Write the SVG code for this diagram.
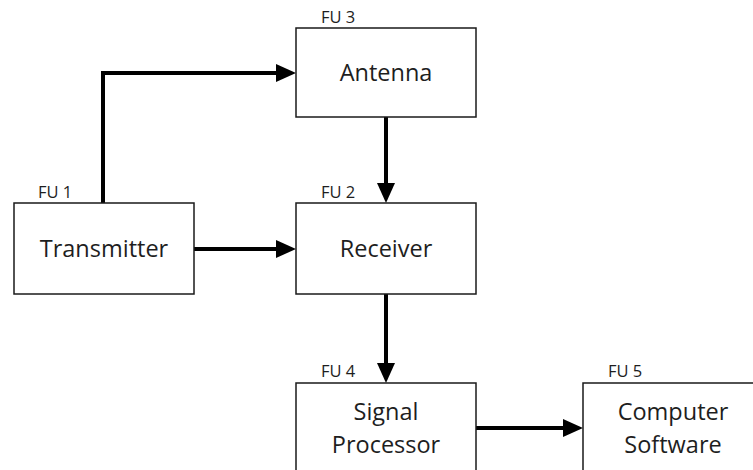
<svg xmlns="http://www.w3.org/2000/svg" width="753" height="470" viewBox="0 0 753 470">
  <style>
    .box { fill: #ffffff; stroke: #1a1a1a; stroke-width: 1.5; }
    .name { font-family: "Open Sans", "Liberation Sans", sans-serif; font-size: 23.5px; fill: #1e1e1e; text-anchor: middle; }
    .tag { font-family: "Open Sans", "Liberation Sans", sans-serif; font-size: 16.5px; fill: #1e1e1e; }
    .wire { fill: none; stroke: #000000; stroke-width: 4; marker-end: url(#head); }
  </style>
  <defs>
    <marker id="head" markerUnits="userSpaceOnUse" markerWidth="20" markerHeight="18" refX="10" refY="9" orient="auto">
      <path d="M0,0 L20,9 L0,18 Z" fill="#000000"/>
    </marker>
  </defs>
  <rect width="753" height="470" fill="#ffffff"/>

  <g id="connectors">
    <path class="wire" d="M103,204 L103,73 L286,73"/>
    <path class="wire" d="M386,117 L386,193"/>
    <path class="wire" d="M194,249 L286,249"/>
    <path class="wire" d="M386,294 L386,373"/>
    <path class="wire" d="M476,428 L573,428"/>
  </g>

  <g id="fu3-antenna">
    <rect class="box" x="296" y="28" width="180" height="89"/>
    <text class="tag" x="321" y="23">FU 3</text>
    <text class="name" x="386" y="81">Antenna</text>
  </g>

  <g id="fu1-transmitter">
    <rect class="box" x="14" y="203" width="180" height="91"/>
    <text class="tag" x="38" y="198">FU 1</text>
    <text class="name" x="104" y="257">Transmitter</text>
  </g>

  <g id="fu2-receiver">
    <rect class="box" x="296" y="203" width="180" height="91"/>
    <text class="tag" x="321" y="198">FU 2</text>
    <text class="name" x="386" y="257">Receiver</text>
  </g>

  <g id="fu4-signal-processor">
    <rect class="box" x="296" y="383" width="180" height="100"/>
    <text class="tag" x="321" y="377">FU 4</text>
    <text class="name" x="386" y="420">Signal</text>
    <text class="name" x="386" y="453">Processor</text>
  </g>

  <g id="fu5-computer-software">
    <rect class="box" x="583" y="383" width="180" height="100"/>
    <text class="tag" x="608" y="377">FU 5</text>
    <text class="name" x="673" y="420">Computer</text>
    <text class="name" x="673" y="453">Software</text>
  </g>
</svg>
